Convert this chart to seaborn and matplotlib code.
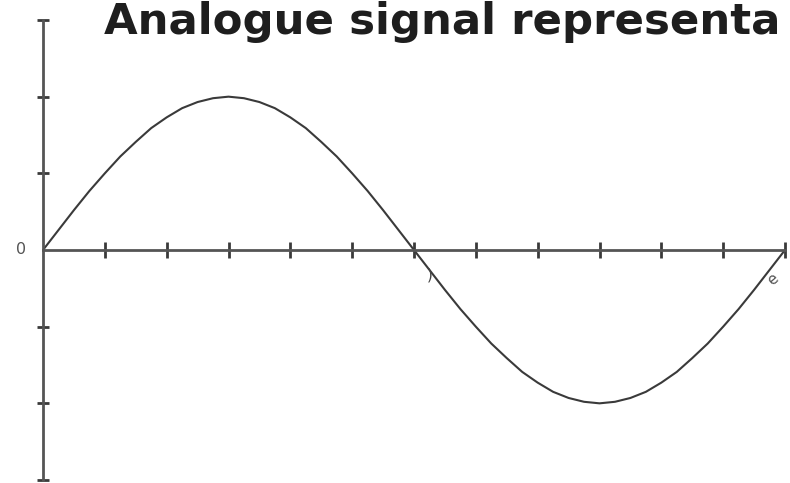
import matplotlib
matplotlib.use("Agg")
import matplotlib.pyplot as plt
import seaborn as sns
import pandas as pd

# Signal samples, one every quarter division along the time axis
time_steps = [0, 0.25, 0.5, 0.75, 1, 1.25, 1.5, 1.75, 2, 2.25, 2.5, 2.75,
              3, 3.25, 3.5, 3.75, 4, 4.25, 4.5, 4.75, 5, 5.25, 5.5, 5.75,
              6, 6.25, 6.5, 6.75, 7, 7.25, 7.5, 7.75, 8, 8.25, 8.5, 8.75,
              9, 9.25, 9.5, 9.75, 10, 10.25, 10.5, 10.75, 11, 11.25, 11.5, 11.75, 12]
amplitude = [0, 0.26, 0.52, 0.77, 1.0, 1.22, 1.41, 1.59, 1.73, 1.85, 1.93, 1.98,
             2.0, 1.98, 1.93, 1.85, 1.73, 1.59, 1.41, 1.22, 1.0, 0.77, 0.52, 0.26,
             0, -0.26, -0.52, -0.77, -1.0, -1.22, -1.41, -1.59, -1.73, -1.85, -1.93, -1.98,
             -2.0, -1.98, -1.93, -1.85, -1.73, -1.59, -1.41, -1.22, -1.0, -0.77, -0.52, -0.26, 0]

x_ticks = [1, 2, 3, 4, 5, 6, 7, 8, 9, 10, 11, 12]
y_ticks = [-3, -2, -1, 1, 2, 3]
title_text = "Analogue signal representa"

df = pd.DataFrame({"t": time_steps, "v": amplitude})

sns.set_theme(style="white")
plt.rcParams["font.family"] = ["DejaVu Sans"]

W, H = 790, 483
fig = plt.figure(figsize=(W / 100, H / 100), dpi=100)
fig.patch.set_facecolor("white")
ax = fig.add_axes([43 / W, 3 / H, (785 - 43) / W, 460 / H])
ax.set_facecolor("white")

sns.lineplot(data=df, x="t", y="v", ax=ax, color="#3a3a3a", linewidth=1.5,
             estimator=None, sort=False)

ax.set_xlim(0, 12)
ax.set_ylim(-3, 3)

axis_color = "#555555"
for side in ["top", "right"]:
    ax.spines[side].set_visible(False)
ax.spines["left"].set_position(("data", 0))
ax.spines["bottom"].set_position(("data", 0))
for side in ["left", "bottom"]:
    ax.spines[side].set_color(axis_color)
    ax.spines[side].set_linewidth(2.0)

ax.set_xticks(x_ticks)
ax.set_yticks(y_ticks)
ax.set_xticklabels([])
ax.set_yticklabels([])
ax.tick_params(axis="x", direction="inout", length=12, width=2, color="#3a3a3a", bottom=True)
ax.tick_params(axis="y", direction="inout", length=9, width=2, color="#3a3a3a", left=True)
ax.set_xlabel("")
ax.set_ylabel("")

# Origin label
ax.text(-0.36, 0, "0", ha="center", va="center", fontsize=11.5, color="#555555")

# Small stray marks along the time axis
ax.text(6.25, -0.33, ")", ha="center", va="center", fontsize=11, color="#444444")
ax.text(11.8, -0.38, "e", ha="center", va="center", fontsize=11, color="#555555",
        rotation=40)

fig.text(104 / W, 1 - 34 / H, title_text, ha="left", va="baseline",
         fontsize=31.3, fontweight="bold", color="#1e1e1e")

ax.set_title("")
fig.savefig("out.png", dpi=100, facecolor="white")
